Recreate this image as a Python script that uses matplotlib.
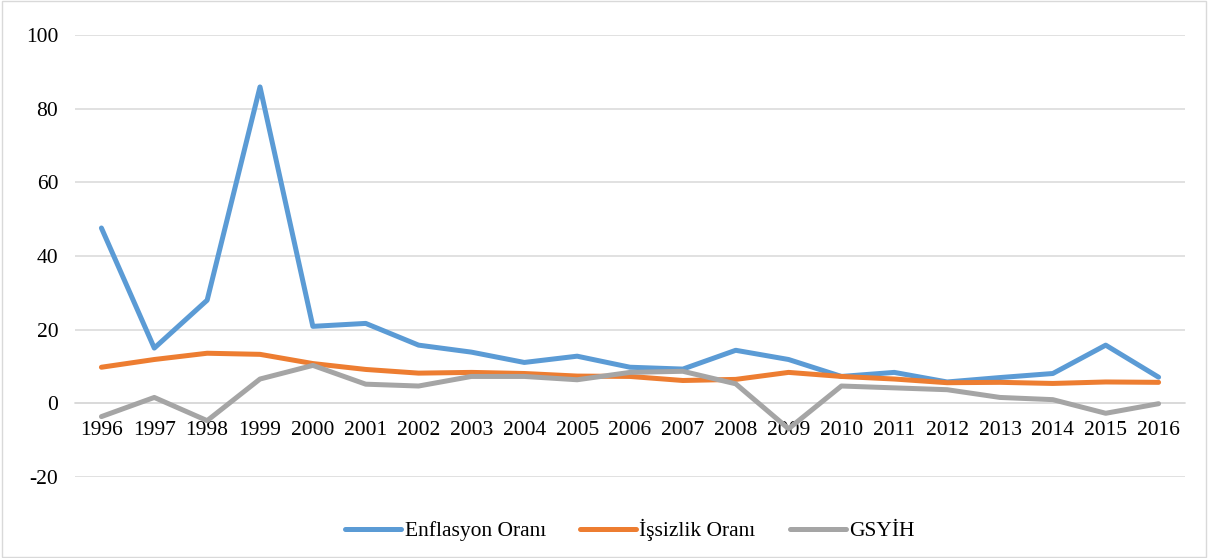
import numpy as np
import matplotlib.pyplot as plt
from matplotlib.patches import Rectangle

plt.rcParams['font.family'] = ['Liberation Serif', 'DejaVu Serif']
plt.rcParams['axes.unicode_minus'] = False

years = [str(y) for y in range(1996, 2017)]
enflasyon = [47.6, 15.0, 28.0, 85.9, 20.9, 21.7, 15.8, 13.9, 11.1, 12.8, 9.8,
             9.3, 14.4, 11.9, 7.3, 8.4, 5.8, 7.0, 8.1, 15.8, 7.1]
issizlik = [9.8, 11.9, 13.6, 13.3, 10.8, 9.2, 8.2, 8.4, 8.1, 7.4, 7.3,
            6.2, 6.5, 8.4, 7.3, 6.6, 5.6, 5.7, 5.4, 5.8, 5.7]
gsyih = [-3.6, 1.6, -4.7, 6.6, 10.3, 5.2, 4.7, 7.3, 7.3, 6.4, 8.4,
         8.7, 5.3, -6.9, 4.7, 4.2, 3.7, 1.6, 1.0, -2.7, -0.1]
series_names = ['Enflasyon Oranı', 'İşsizlik Oranı', 'GSYİH']
colors = ['#5B9BD5', '#ED7D31', '#A5A5A5']

fig = plt.figure(figsize=(12.21, 5.58), dpi=100)
ax = fig.add_axes([75 / 1221, 81 / 558, 1110 / 1221, 442 / 558])

x = np.arange(len(years))
for vals, name, c in zip([enflasyon, issizlik, gsyih], series_names, colors):
    ax.plot(x, vals, color=c, lw=3.6, label=name, solid_capstyle='round',
            solid_joinstyle='round', zorder=3)

ax.set_xlim(-0.5, len(years) - 0.5)
ax.set_ylim(-20, 100)
ax.set_yticks(range(-20, 101, 20))
ax.grid(axis='y', color='#D9D9D9', lw=1.1)
ax.set_axisbelow(True)

for s in ['top', 'right', 'left']:
    ax.spines[s].set_visible(False)
ax.spines['bottom'].set_position(('data', 0))
ax.spines['bottom'].set_color('#D9D9D9')
ax.spines['bottom'].set_linewidth(1.1)

ax.set_xticks(x)
ax.set_xticklabels(years)
ax.tick_params(axis='x', length=0, pad=13, labelsize=15.5)
ax.tick_params(axis='y', length=0, pad=12, labelsize=15.5)

ax.legend(loc='center', bbox_to_anchor=(0.5, -0.12), ncol=3, frameon=False,
          fontsize=15.5, handlelength=2.6, handletextpad=0.15, columnspacing=1.6)

# chart border
fig.patches.append(Rectangle((0.002, 0.002), 0.986, 0.996, transform=fig.transFigure,
                             fill=False, edgecolor='#D9D9D9', lw=1))

fig.savefig('out.png', dpi=100)
